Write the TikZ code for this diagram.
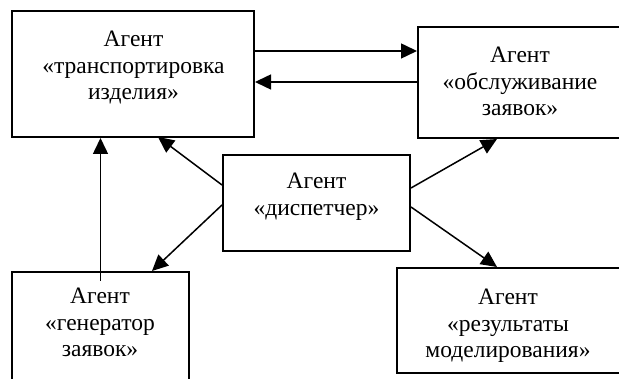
\documentclass[tikz,border=0pt]{standalone}
\usepackage{fontspec}
\setmainfont{Liberation Serif}
\usetikzlibrary{arrows.meta}
\begin{document}
\begin{tikzpicture}[x=1pt,y=1pt,
  box/.style={draw=black, line width=2pt, inner sep=0pt, rectangle},
  lbl/.style={anchor=north, inner sep=0pt, align=center, font=\fontsize{23.5}{26.5}\selectfont},
  arr/.style={line width=1.5pt, -{Triangle[length=16pt,width=15pt]}}]
\clip (0,0) rectangle (619,379);
\fill[white] (0,0) rectangle (619,379);
% boxes
\node[box, minimum width=242pt, minimum height=126pt] (b1) at (133,305) {};
\node[box, minimum width=206pt, minimum height=111pt] (b2) at (521,296.5) {};
\node[box, minimum width=187pt, minimum height=96pt] (b3) at (316.5,176) {};
\node[box, minimum width=177pt, minimum height=118pt] (b4) at (100.5,48) {};
\node[box, minimum width=227pt, minimum height=105pt] (b5) at (510.5,58.5) {};
% texts
\node[lbl] (t1) at (133.5,348) {Агент\\«транспортировка\\изделия»};
\node[lbl] (t2) at (520,332) {Агент\\«обслуживание\\заявок»};
\node[lbl] (t3) at (316.5,206) {Агент\\«диспетчер»};
\node[lbl] (t4) at (100,91) {Агент\\«генератор\\заявок»};
\node[lbl] (t5) at (508,90) {Агент\\«результаты\\моделирования»};
% connectors
\coordinate (ya) at (0,328);
\coordinate (yb) at (0,297);
\draw[arr] (b1.east |- ya) -- (b2.west |- ya);
\draw[arr] (b2.west |- yb) -- (b1.east |- yb);
\draw[arr] ([yshift=-10pt]b4.north) -- (b1.south -| b4.north);
\draw[arr] ([yshift=18pt]b3.west) -- ([xshift=25pt,yshift=1pt]b1.south);
\draw[arr] ([yshift=-2pt]b3.west) -- ([xshift=51.5pt]b4.north);
\draw[arr] ([yshift=15pt]b3.east) -- ([xshift=-24pt]b2.south);
\draw[arr] ([yshift=-4pt]b3.east) -- ([xshift=-13.5pt]b5.north);
\end{tikzpicture}
\end{document}
